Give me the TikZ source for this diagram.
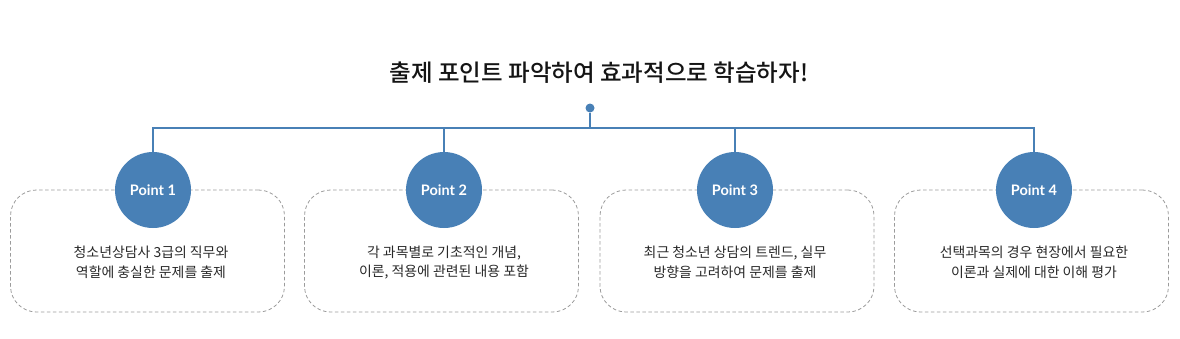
\documentclass[tikz,border=0pt]{standalone}
\usepackage{fontspec}
\setmainfont{Noto Sans CJK KR}
\newfontfamily\titlefont{Noto Sans CJK KR Medium}
\newfontfamily\latobold{Lato}[UprightFont=* Bold]
\usetikzlibrary{positioning}
\definecolor{ptblue}{RGB}{72,128,182}
\definecolor{boxgray}{RGB}{155,155,155}
\definecolor{bodytext}{RGB}{40,40,40}
\definecolor{titletext}{RGB}{20,20,20}

\begin{document}
\begin{tikzpicture}[x=1pt, y=-1pt,
      link/.style={draw=ptblue, line width=1.1pt},
      pointdot/.style={circle, fill=ptblue, minimum size=76pt, inner sep=0pt, text=white, font=\latobold\fontsize{14.5}{16}\selectfont},
      card/.style={draw=boxgray, dash pattern=on 3.5pt off 2.5pt, line width=0.8pt, rounded corners=26pt, minimum width=274pt, minimum height=122pt, inner sep=0pt},
      cardtext/.style={align=center, text=bodytext, font=\fontsize{13.9}{19.5}\selectfont}
    ]
      \useasboundingbox (0,0) rectangle (1180,338);

      % Title and hub
      \node[text=titletext, font=\titlefont\fontsize{23.5}{28}\selectfont] (title) at (599,73) {출제 포인트 파악하여 효과적으로 학습하자!};
      \node[circle, fill=ptblue, minimum size=9pt, inner sep=0pt] (hub) at (590,108) {};
      \coordinate (junction) at (590,128);

      % Dashed cards
      \node[card] (b1) at (147.5,251) {};
      \node[card] (b2) at (441.5,251) {};
      \node[card] (b3) at (737,251) {};
      \node[card] (b4) at (1031.5,251) {};

      % Card texts
      \node[cardtext] (t1) at (151,262.5) {청소년상담사 3급의 직무와\\역할에 충실한 문제를 출제};
      \node[cardtext] (t2) at (444,262.5) {각 과목별로 기초적인 개념,\\이론, 적용에 관련된 내용 포함};
      \node[cardtext] (t3) at (735,262.5) {최근 청소년 상담의 트렌드, 실무\\방향을 고려하여 문제를 출제};
      \node[cardtext] (t4) at (1034,262.5) {선택과목의 경우 현장에서 필요한\\이론과 실제에 대한 이해 평가};

      % Point circles
      \node[pointdot] (p1) at (153,190) {Point 1};
      \node[pointdot] (p2) at (444,190) {Point 2};
      \node[pointdot] (p3) at (735,190) {Point 3};
      \node[pointdot] (p4) at (1034,190) {Point 4};

      % Connectors
      \draw[link] (hub) -- (junction);
      \draw[link] (p1.north) |- (junction) -| (p4.north);
      \draw[link] (p2.north) -- (p2.north |- junction);
      \draw[link] (p3.north) -- (p3.north |- junction);
    \end{tikzpicture}
\end{document}
